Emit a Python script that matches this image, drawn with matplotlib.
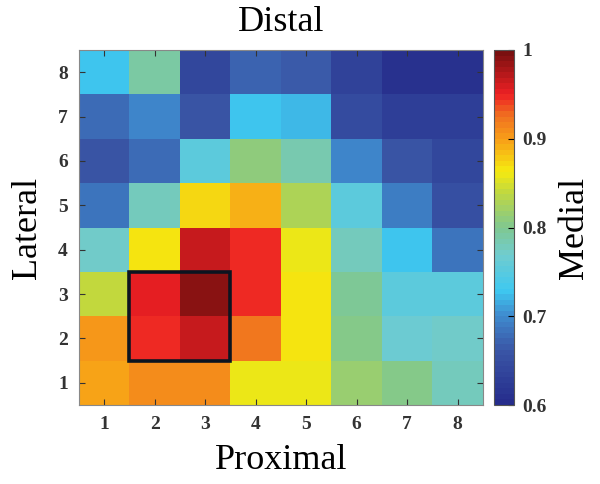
import numpy as np
import matplotlib
matplotlib.use('Agg')
import matplotlib.pyplot as plt
from matplotlib.colors import LinearSegmentedColormap
from matplotlib.patches import Rectangle

# rows from bottom (1) to top (8), columns 1..8
row1 = [0.895, 0.910, 0.910, 0.862, 0.858, 0.815, 0.800, 0.775]
row2 = [0.900, 0.950, 0.965, 0.920, 0.865, 0.800, 0.765, 0.770]
row3 = [0.840, 0.955, 0.990, 0.945, 0.865, 0.795, 0.755, 0.755]
row4 = [0.770, 0.865, 0.965, 0.945, 0.860, 0.780, 0.730, 0.685]
row5 = [0.685, 0.780, 0.872, 0.890, 0.830, 0.755, 0.690, 0.655]
row6 = [0.660, 0.675, 0.755, 0.810, 0.785, 0.700, 0.660, 0.640]
row7 = [0.675, 0.700, 0.660, 0.730, 0.722, 0.645, 0.630, 0.625]
row8 = [0.728, 0.790, 0.640, 0.670, 0.665, 0.635, 0.610, 0.610]
ticks = [1, 2, 3, 4, 5, 6, 7, 8]
cbar_ticks = [0.6, 0.7, 0.8, 0.9, 1]

data = np.array([row1, row2, row3, row4, row5, row6, row7, row8])

cmap = LinearSegmentedColormap.from_list('jetlike', [
    (0.00, '#262d8c'),
    (0.15, '#3a56a6'),
    (0.25, '#3f8ccf'),
    (0.32, '#3ec8f0'),
    (0.42, '#70ccd0'),
    (0.50, '#80c890'),
    (0.60, '#c0d840'),
    (0.66, '#f5ea10'),
    (0.75, '#f8a018'),
    (0.82, '#f07020'),
    (0.88, '#ee2024'),
    (1.00, '#7a1010'),
], N=64)

plt.rcParams['font.family'] = 'Liberation Serif'

fig = plt.figure(figsize=(6, 4.84), dpi=100)
ax = fig.add_axes([79/600, 1-405/484, 404/600, 355/484])
cax = fig.add_axes([494/600, 1-405/484, 20/600, 355/484])

im = ax.imshow(data, cmap=cmap, vmin=0.6, vmax=1.0, origin='lower',
               extent=[0.5, 8.5, 0.5, 8.5], aspect='auto')
ax.add_patch(Rectangle((1.5, 1.5), 2, 2, fill=False, edgecolor='#0c1420', lw=2.6))

ax.set_xticks(ticks)
ax.set_yticks(ticks)
ax.set_xticklabels(ticks, fontsize=14, fontweight='bold', color='#333333')
ax.set_yticklabels(ticks, fontsize=14, fontweight='bold', color='#333333')
ax.tick_params(direction='in', top=True, right=True, length=4, color='#333333', pad=8)
for s in ax.spines.values():
    s.set_color('#888888')
ax.set_xlabel('Proximal', fontsize=26, labelpad=8)
ax.set_ylabel('Lateral', fontsize=26, labelpad=10)
ax.set_title('Distal', fontsize=26, pad=14)

cb = fig.colorbar(im, cax=cax, ticks=cbar_ticks)
cb.ax.set_yticklabels(['0.6', '0.7', '0.8', '0.9', '1'], fontsize=14, fontweight='bold', color='#333333')
cb.ax.tick_params(direction='in', length=4, pad=6)
cb.outline.set_edgecolor('#555555')
cb.set_label('Medial', fontsize=26, labelpad=8)

fig.savefig('out.png', dpi=100)
